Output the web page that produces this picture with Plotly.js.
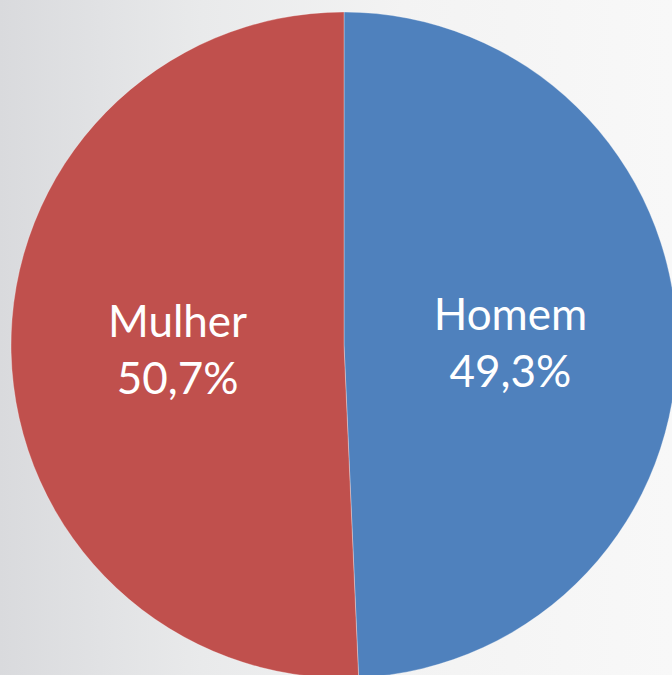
<!DOCTYPE html>
<html>
<head>
<meta charset="utf-8">
<script src="https://cdn.plot.ly/plotly-3.0.1.min.js"></script>
<style>
  html, body { margin: 0; padding: 0; width: 672px; height: 675px; overflow: hidden; }
  body { background: linear-gradient(to right, #d9dadd 0%, #e9eaeb 30%, #f3f3f3 60%, #f8f8f8 100%); }
  #chart { width: 688px; height: 690px; }
</style>
</head>
<body>
<div id="chart"></div>
<script>
const labels = ["Homem", "Mulher"];
const values = [49.3, 50.7];
const colors = ["#4F81BD", "#C0504D"];

const W = 688, H = 690;
const data = [{
  type: "pie",
  labels: labels,
  values: values,
  sort: false,
  direction: "clockwise",
  rotation: 0,
  marker: { colors: colors, line: { color: "rgba(255,255,255,0.3)", width: 1 } },
  texttemplate: "%{label}<br>%{percent:.1%}",
  textposition: "inside",
  insidetextorientation: "horizontal",
  textfont: { family: "Lato, 'Open Sans', sans-serif", size: 44, color: "#ffffff" },
  hoverinfo: "none",
  showlegend: false,
  domain: { x: [11 / W, 677 / W], y: [12 / H, 678 / H] }
}];

const layout = {
  width: W, height: H,
  margin: { l: 0, r: 0, t: 0, b: 0 },
  paper_bgcolor: "rgba(0,0,0,0)",
  plot_bgcolor: "rgba(0,0,0,0)",
  separators: ",.",
  showlegend: false
};

Plotly.newPlot("chart", data, layout, { displayModeBar: false, staticPlot: true });
</script>
</body>
</html>
